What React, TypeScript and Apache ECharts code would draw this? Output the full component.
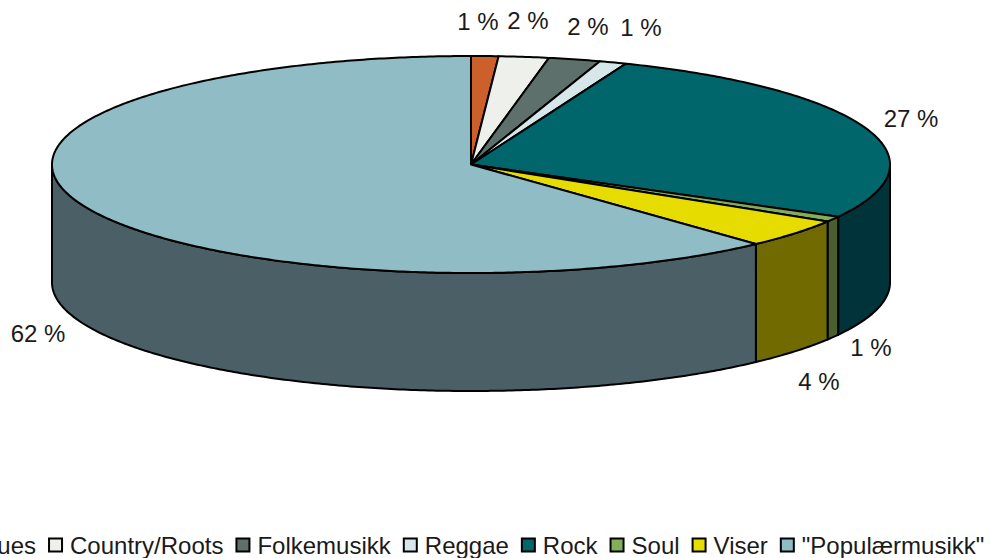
import React, { useEffect, useRef } from "react";
import * as echarts from "echarts";

const categories = ["Blues", "Country/Roots", "Folkemusikk", "Reggae", "Rock", "Soul", "Viser", '"Populærmusikk"'];
const shares = [1.05, 1.93, 2.0, 1.05, 26.97, 0.8, 4.3, 61.9];
const topColors = ["#CC5F2A", "#EEF0EB", "#5E706C", "#D6E6E9", "#00666C", "#84AD57", "#E6DC00", "#90BCC6"];
const wallColors = ["#66301A", "#777875", "#2F3836", "#6B7375", "#00343A", "#4B5E30", "#706A00", "#4A5F66"];
const labelCenters: number[][] = [
  [478, 21], [528, 20], [588, 26], [641, 27], [911, 118], [871, 347], [819, 381], [38, 333],
];

const CX = 471, CY = 164.5, RX = 419, RY = 108.5, DEPTH = 118;
const total = shares.reduce((a, b) => a + b, 0);
const startOf = (i: number) => (shares.slice(0, i).reduce((a, b) => a + b, 0) / total) * Math.PI * 2;
const pt = (t: number, dy = 0) => [CX + RX * Math.sin(t), CY - RY * Math.cos(t) + dy];
const arc = (a: number, b: number, dy = 0) => {
  const n = Math.max(2, Math.ceil((b - a) / 0.01));
  const pts: number[][] = [];
  for (let k = 0; k <= n; k++) pts.push(pt(a + ((b - a) * k) / n, dy));
  return pts;
};

const lineStyle = { stroke: "#000", lineWidth: 2, lineJoin: "round" };

const makeRender = (i: number) => () => {
  const a = startOf(i);
  const b = startOf(i + 1);
  const children: any[] = [];
  const wa = Math.max(a, Math.PI / 2);
  const wb = Math.min(b, (Math.PI * 3) / 2);
  if (wb > wa) {
    const upper = arc(wa, wb);
    const lower = arc(wa, wb, DEPTH).reverse();
    children.push({
      type: "polygon",
      shape: { points: upper.concat(lower) },
      style: { fill: wallColors[i], ...lineStyle },
    });
  }
  children.push({
    type: "polygon",
    shape: { points: [[CX, CY], ...arc(a, b)] },
    style: { fill: topColors[i], ...lineStyle },
  });
  children.push({
    type: "text",
    style: {
      text: `${Math.round(shares[i])} %`,
      x: labelCenters[i][0],
      y: labelCenters[i][1],
      align: "center",
      verticalAlign: "middle",
      fill: "#1a1a1a",
      font: '24px "Liberation Sans", Arial, sans-serif',
    },
  });
  return { type: "group", children };
};

export default function App() {
  const ref = useRef<HTMLDivElement>(null);
  useEffect(() => {
    document.body.style.margin = "0";
    const chart = echarts.init(ref.current!, undefined, { renderer: "svg" });
    chart.setOption({
      animation: false,
      backgroundColor: "#ffffff",
      legend: {
        data: categories,
        left: -46,
        top: 533,
        width: 1200,
        padding: 0,
        icon: "rect",
        itemWidth: 13,
        itemHeight: 13,
        itemGap: 12,
        selectedMode: false,
        itemStyle: { borderColor: "#000", borderWidth: 2 },
        textStyle: { fontFamily: '"Liberation Sans", Arial, sans-serif', fontSize: 24, color: "#1a1a1a", padding: [0, 0, 0, 3] },
      },
      series: categories.map((name, i) => ({
        type: "custom",
        name,
        coordinateSystem: "none",
        silent: true,
        itemStyle: { color: topColors[i] },
        data: [shares[i]],
        renderItem: makeRender(i),
      })),
    });
    return () => chart.dispose();
  }, []);
  return <div ref={ref} style={{ position: "absolute", left: 0, top: 0, width: 991, height: 558, overflow: "hidden" }} />;
}
